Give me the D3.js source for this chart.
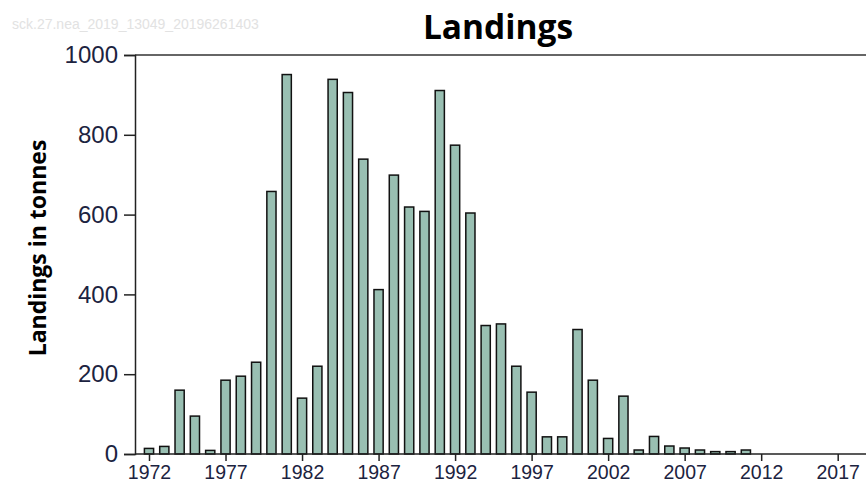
<!DOCTYPE html>
<html>
<head>
<meta charset="utf-8">
<script src="https://cdn.jsdelivr.net/npm/d3@7/dist/d3.min.js"></script>
<style>
  html, body { margin: 0; padding: 0; background: #fff; }
  svg { display: block; }
</style>
</head>
<body>
<svg id="chart" width="866" height="493"></svg>
<script>
const years = [1972,1973,1974,1975,1976,1977,1978,1979,1980,1981,1982,1983,1984,1985,1986,1987,1988,1989,1990,1991,1992,1993,1994,1995,1996,1997,1998,1999,2000,2001,2002,2003,2004,2005,2006,2007,2008,2009,2010,2011];
const landings = [14,19,160,95,9,185,195,230,658,951,140,220,939,906,739,412,699,619,608,911,774,604,322,326,220,155,43,43,312,185,39,145,10,44,20,15,10,6,6,10];
const xTickYears = [1972,1977,1982,1987,1992,1997,2002,2007,2012,2017];
const yTicks = [0,200,400,600,800,1000];
const title = "Landings";
const yLabel = "Landings in tonnes";
const watermark = "sck.27.nea_2019_13049_20196261403";

const svg = d3.select("#chart");
const plot = { left: 135, top: 55, right: 866, bottom: 454 };

const x = d3.scaleLinear().domain([1972, 2017]).range([149, 837.7]);
const y = d3.scaleLinear().domain([0, 1000]).range([plot.bottom, plot.top]);
const step = x(1973) - x(1972);
const bw = step * 0.6;

// watermark
svg.append("text").attr("x", 12).attr("y", 29)
  .attr("font-family", "Liberation Sans, Arial, sans-serif")
  .attr("font-size", 14).attr("fill", "#e2e2e2").text(watermark);

// title
svg.append("text").attr("x", 498).attr("y", 39)
  .attr("text-anchor", "middle")
  .attr("font-family", "Open Sans, sans-serif").attr("font-weight", "bold")
  .attr("font-size", 33.5).attr("fill", "#000").text(title);

// y label
svg.append("text")
  .attr("transform", `translate(46,${248}) rotate(-90)`)
  .attr("text-anchor", "middle")
  .attr("font-family", "Open Sans, sans-serif").attr("font-weight", "bold")
  .attr("font-size", 23).attr("fill", "#000").text(yLabel);

// bars
svg.append("g").selectAll("rect").data(years.map((yr, i) => ({ yr, v: landings[i] })))
  .join("rect")
  .attr("x", d => x(d.yr) - bw / 2)
  .attr("y", d => y(d.v))
  .attr("width", bw)
  .attr("height", d => y(0) - y(d.v))
  .attr("fill", "#99bfb2")
  .attr("stroke", "#111")
  .attr("stroke-width", 1.5);

// top frame line
svg.append("line").attr("x1", plot.left).attr("x2", plot.right)
  .attr("y1", plot.top).attr("y2", plot.top)
  .attr("stroke", "#333").attr("stroke-width", 1.5);

// y axis
const yAxis = d3.axisLeft(y).tickValues(yTicks).tickSize(11).tickPadding(6).tickFormat(d3.format("d"));
const gy = svg.append("g").attr("transform", `translate(${plot.left},0)`).call(yAxis);
gy.select(".domain").attr("stroke", "#222").attr("stroke-width", 1.5);
gy.selectAll(".tick line").attr("stroke", "#222").attr("stroke-width", 1.5);
gy.selectAll(".tick text").attr("font-family", "Liberation Sans, Arial, sans-serif")
  .attr("font-size", 24).attr("fill", "#1c2340");

// x axis
const xAxis = d3.axisBottom(x).tickValues(xTickYears).tickSize(7).tickPadding(4).tickFormat(d3.format("d"));
const gx = svg.append("g").attr("transform", `translate(0,${plot.bottom})`).call(xAxis);
gx.select(".domain").remove();
gx.append("line").attr("x1", plot.left).attr("x2", plot.right).attr("y1", 0).attr("y2", 0)
  .attr("stroke", "#222").attr("stroke-width", 1.5);
gx.selectAll(".tick line").attr("stroke", "#222").attr("stroke-width", 1.5);
gx.selectAll(".tick text").attr("font-family", "Liberation Sans, Arial, sans-serif")
  .attr("font-size", 19.5).attr("fill", "#1c2340");
</script>
</body>
</html>
